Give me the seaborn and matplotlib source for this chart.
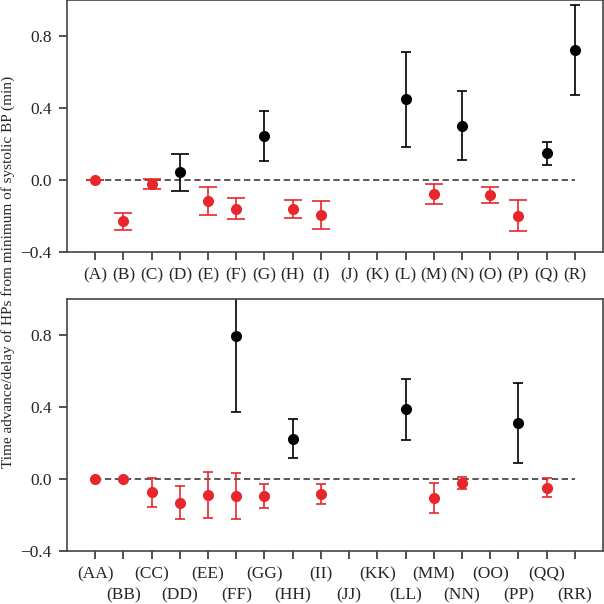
import numpy as np
import matplotlib
matplotlib.use("Agg")
import matplotlib.pyplot as plt
import seaborn as sns

nan = np.nan

# top panel
top_labels = ['(A)', '(B)', '(C)', '(D)', '(E)', '(F)', '(G)', '(H)', '(I)',
              '(J)', '(K)', '(L)', '(M)', '(N)', '(O)', '(P)', '(Q)', '(R)']
top_red = [0.0, -0.23, -0.022, nan, -0.118, -0.159, nan, -0.161, -0.194,
           nan, nan, nan, -0.078, nan, -0.085, -0.198, nan, nan]
top_red_err = [0.0, 0.045, 0.03, nan, 0.077, 0.058, nan, 0.05, 0.08,
               nan, nan, nan, 0.055, nan, 0.045, 0.088, nan, nan]
top_black = [nan, nan, nan, 0.043, nan, nan, 0.244, nan, nan,
             nan, nan, 0.448, nan, 0.302, nan, nan, 0.148, 0.72]
top_black_err = [nan, nan, nan, 0.103, nan, nan, 0.14, nan, nan,
                 nan, nan, 0.262, nan, 0.19, nan, nan, 0.063, 0.25]

# bottom panel
bot_labels = ['(AA)', '(BB)', '(CC)', '(DD)', '(EE)', '(FF)', '(GG)', '(HH)', '(II)',
              '(JJ)', '(KK)', '(LL)', '(MM)', '(NN)', '(OO)', '(PP)', '(QQ)', '(RR)']
bot_red = [0.0, 0.0, -0.074, -0.131, -0.091, -0.096, -0.094, nan, -0.083,
           nan, nan, nan, -0.104, -0.02, nan, nan, -0.048, nan]
bot_red_err = [0.0, 0.0, 0.08, 0.09, 0.128, 0.128, 0.067, nan, 0.054,
               nan, nan, nan, 0.083, 0.033, nan, nan, 0.053, nan]
bot_black = [nan, nan, nan, nan, nan, 0.793, nan, 0.224, nan,
             nan, nan, 0.387, nan, nan, nan, 0.311, nan, nan]
bot_black_err = [nan, nan, nan, nan, nan, 0.423, nan, 0.107, nan,
                 nan, nan, 0.17, nan, nan, nan, 0.222, nan, nan]

red = '#e8262b'

sns.set_style("ticks")
plt.rcParams['font.family'] = ['Liberation Serif', 'DejaVu Serif']
plt.rcParams['font.size'] = 11

fig = plt.figure(figsize=(6.04, 6.04), dpi=100)
ax1 = fig.add_axes([67 / 604, 1 - 252 / 604, 536 / 604, 252 / 604])
ax2 = fig.add_axes([67 / 604, 1 - 551 / 604, 536 / 604, 252 / 604])


def draw(ax, labels, rv, re, bv, be, red_cap, black_cap, wide=()):
    x = np.arange(len(labels))
    ax.plot([0, len(labels) - 1], [0, 0], ls='--', color='#4a4a4a', lw=1.3,
            dashes=(3.5, 2), zorder=1)
    for i in x:
        if not np.isnan(rv[i]):
            ax.errorbar(i, rv[i], yerr=re[i], fmt='none', ecolor=red, elinewidth=1.2,
                        capsize=red_cap, capthick=1.2, zorder=2)
        if not np.isnan(bv[i]):
            cs = red_cap if labels[i] in wide else black_cap
            ax.errorbar(i, bv[i], yerr=be[i], fmt='none', ecolor='black', elinewidth=1.2,
                        capsize=cs, capthick=1.2, zorder=2)
    sns.scatterplot(x=x, y=rv, color=red, s=64, linewidth=0, ax=ax, zorder=3)
    sns.scatterplot(x=x, y=bv, color='black', s=64, linewidth=0, ax=ax, zorder=3)
    ax.set_xlim(-1, len(labels))
    ax.set_ylim(-0.4, 1.0)
    ax.set_yticks([-0.4, 0.0, 0.4, 0.8])
    ax.set_yticklabels(['\u22120.4', '0.0', '0.4', '0.8'])
    ax.tick_params(which='both', direction='out', length=6, width=1.2, color='#333333',
                   labelsize=12.5, pad=5)
    for s in ax.spines.values():
        s.set_color('#444444')
        s.set_linewidth(1.2)


draw(ax1, top_labels, top_red, top_red_err, top_black, top_black_err,
     red_cap=6.5, black_cap=3.5, wide=('(D)',))
ax1.set_xticks(np.arange(len(top_labels)))
ax1.set_xticklabels(top_labels)

draw(ax2, bot_labels, bot_red, bot_red_err, bot_black, bot_black_err,
     red_cap=3.5, black_cap=3.5)
xb = np.arange(len(bot_labels))
ax2.set_xticks(xb[::2])
ax2.set_xticklabels(bot_labels[::2])
ax2.set_xticks(xb[1::2], minor=True)
ax2.set_xticklabels(bot_labels[1::2], minor=True)
ax2.tick_params(axis='x', which='minor', pad=20.5)

fig.text(0.014, 1 - 272 / 604, 'Time advance/delay of HPs from minimum of systolic BP (min)',
         rotation=90, va='center', ha='center', fontsize=11)

fig.savefig('out.png', dpi=100)
